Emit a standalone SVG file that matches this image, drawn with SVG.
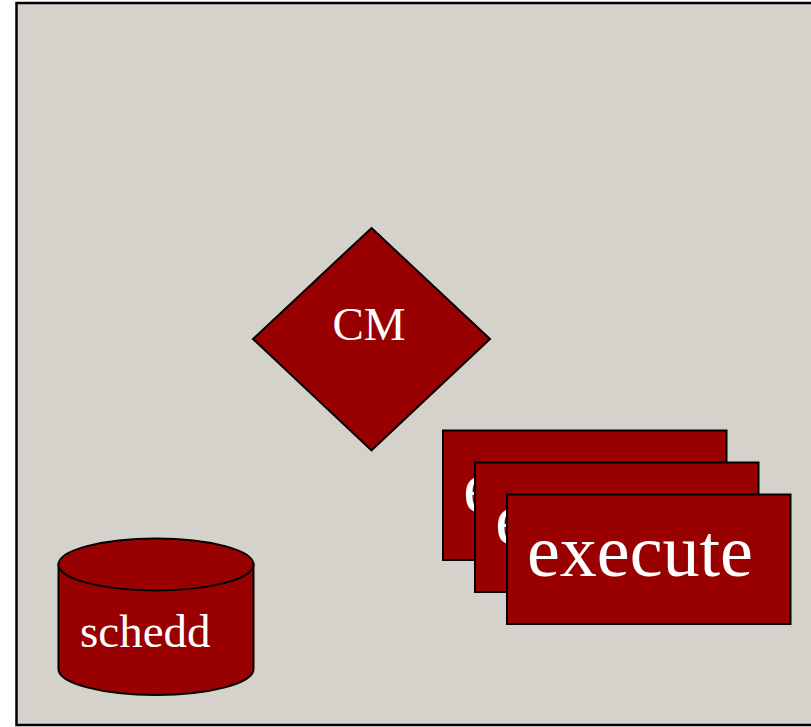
<svg xmlns="http://www.w3.org/2000/svg" width="811" height="727" viewBox="0 0 811 727">
<style>
.n{fill:#990000;stroke:#000;stroke-width:2}
.t{fill:#fff;font-family:"Liberation Serif","Times New Roman",serif}
</style>
<rect x="0" y="0" width="811" height="727" fill="#fff"/>
<rect x="16.5" y="3" width="810" height="722" fill="#d5d1cb" stroke="#000" stroke-width="2.5"/>
<g id="connectors"></g>
<g id="cm">
<polygon class="n" points="371.5,228 490,339 371.5,450.5 253,339"/>
<text class="t" x="369" y="340" font-size="47" text-anchor="middle">CM</text>
</g>
<g id="execute1">
<rect class="n" x="443" y="430.5" width="283.5" height="129.5"/>
<text class="t" x="463" y="512" font-size="74">execute</text>
</g>
<g id="execute2">
<rect class="n" x="475" y="462.5" width="283.5" height="129.5"/>
<text class="t" x="495" y="544" font-size="74">execute</text>
</g>
<g id="execute3">
<rect class="n" x="507" y="494.5" width="283.5" height="129.5"/>
<text class="t" x="527" y="576" font-size="74">execute</text>
</g>
<g id="schedd">
<path class="n" d="M58.5,564.5 L58.5,669 A97.5,26 0 0 0 253.5,669 L253.5,564.5 Z"/>
<ellipse class="n" cx="156" cy="564.5" rx="97.5" ry="26"/>
<text class="t" x="80" y="646.5" font-size="47">schedd</text>
</g>
</svg>
